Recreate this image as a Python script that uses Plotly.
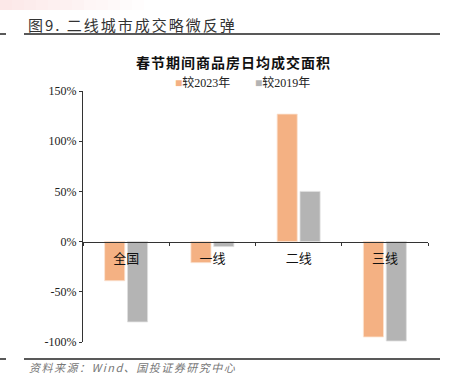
import plotly.graph_objects as go

categories = ["全国", "一线", "二线", "三线"]
vs2023 = [-39, -21, 127, -95]
vs2019 = [-80, -5, 50, -99]
series_names = ["较2023年", "较2019年"]
ytick_vals = [-100, -50, 0, 50, 100, 150]
ytick_text = ["-100%", "-50%", "0%", "50%", "100%", "150%"]

ORANGE = "#F4B183"
GRAY = "#B4B4B4"
CJK = "Noto Sans CJK SC"
SERIF = "Liberation Serif"

W, H = 452, 387
PL, PR, PT, PB = 83, 428, 91, 342  # plot area in pixels
ZERO_Y = 242

def fx(px):
    return px / W

def fy(py):
    return 1 - py / H

fig = go.Figure()
fig.add_trace(go.Bar(x=categories, y=vs2023, name=series_names[0], showlegend=False,
                     marker=dict(color=ORANGE, line=dict(color="#FBE3D2", width=0.8))))
fig.add_trace(go.Bar(x=categories, y=vs2019, name=series_names[1], showlegend=False,
                     marker=dict(color=GRAY, line=dict(color="#E0E0E0", width=0.8))))

fig.update_layout(
    width=W, height=H, autosize=False,
    margin=dict(l=0, r=0, t=0, b=0, pad=0, autoexpand=False),
    paper_bgcolor="white", plot_bgcolor="white",
    barmode="group", bargap=0.47, bargroupgap=0.12,
    showlegend=False,
    xaxis=dict(domain=[fx(PL), fx(PR)], anchor="free", position=fy(ZERO_Y),
               automargin=False,
               showline=True, linecolor="#333", linewidth=1,
               ticks="outside", tickson="boundaries", ticklen=3, tickcolor="#333",
               ticklabelstandoff=4,
               showgrid=False, zeroline=False,
               tickfont=dict(family=CJK, size=13, color="#111")),
    yaxis=dict(domain=[fy(PB), fy(PT)], range=[-100, 150], automargin=False,
               tickvals=ytick_vals, ticktext=ytick_text,
               showline=True, linecolor="#333", linewidth=1, ticks="outside", ticklen=3,
               tickcolor="#333", showgrid=False, zeroline=False,
               tickfont=dict(family=SERIF, size=12, color="#222")),
)

def note(text, x, y, xanchor="left", size=12, color="#222", family=CJK):
    fig.add_annotation(text=text, xref="paper", yref="paper", x=fx(x), y=fy(y),
                       xanchor=xanchor, yanchor="middle", showarrow=False,
                       font=dict(family=family, size=size, color=color))

# header, title, footer
note("<span style='letter-spacing:2px'>图9. 二线城市成交略微反弹</span>", 26, 24,
     size=15, color="#333")
note("<b><span style='letter-spacing:1px'>春节期间商品房日均成交面积</span></b>", 233, 62,
     xanchor="center", size=14, color="#111")
note("<i><span style='letter-spacing:1.5px'>资料来源：Wind、国投证券研究中心</span></i>", 27, 367,
     size=11, color="#777")

# legend (manual)
note(f"<span style='color:{ORANGE}'>■</span>{series_names[0]}", 173, 83,
     size=12, color="#222", family=SERIF + ", " + CJK)
note(f"<span style='color:{GRAY}'>■</span>{series_names[1]}", 253, 83,
     size=12, color="#222", family=SERIF + ", " + CJK)

def pxline(x0, y0, x1, y1, color="#222", width=1.5):
    fig.add_shape(type="line", xref="paper", yref="paper",
                  x0=fx(x0), x1=fx(x1), y0=fy(y0), y1=fy(y1),
                  line=dict(color=color, width=width))

pxline(24, 34, 440, 34)
pxline(0, 34, 6, 34)
pxline(24, 359, 440, 359)
pxline(0, 359, 6, 359)

# pink gradient strip at top-left
for i in range(12):
    a = 0.22 * (1 - i / 12)
    fig.add_shape(type="rect", xref="paper", yref="paper",
                  x0=fx(i * 12), x1=fx((i + 1) * 12), y0=fy(10), y1=fy(0),
                  fillcolor=f"rgba(240,150,150,{a:.3f})", line=dict(width=0))

fig.write_html("out.html",
               config={"displayModeBar": False},
               post_script="document.body.style.margin='0px';document.body.style.overflow='hidden';")
